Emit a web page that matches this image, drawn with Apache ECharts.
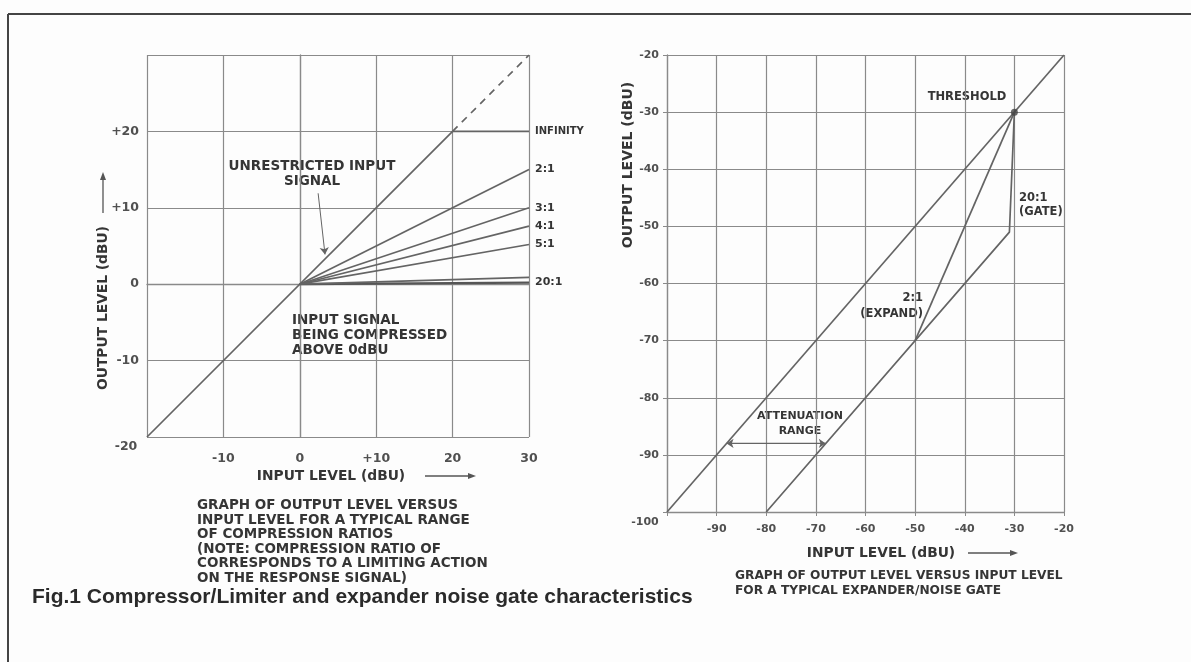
<!DOCTYPE html>
<html>
<head>
<meta charset="utf-8">
<script src="https://cdn.jsdelivr.net/npm/echarts@6/dist/echarts.min.js"></script>
<style>
  html, body { margin: 0; padding: 0; background: #fdfdfd; }
  #chart { width: 1191px; height: 662px; }
</style>
</head>
<body>
<div id="chart"></div>
<script>
// compressor / limiter (left)
const compTicks = [-20, -10, 0, 10, 20, 30];
const unityLine = [[-20, -20], [20, 20]];
const unityDashed = [[20, 20], [30, 30]];
const infinityLine = [[20, 20], [30, 20]];
const ratioLabels = ['2:1', '3:1', '4:1', '5:1', '20:1'];
const ratioOutAt30 = [15, 10, 7.6, 5.2, 0.9];
const flatLine = [[0, 0], [30, 0.2]];

// expander / noise gate (right)
const gateTicks = [-100, -90, -80, -70, -60, -50, -40, -30, -20];
const rightUnity = [[-100, -100], [-20, -20]];
const expandLine = [[-30, -30], [-50, -70]];
const gateLine = [[-30, -30], [-31, -51], [-80, -100]];
const threshold = [-30, -30];
const attenRange = [[-88, -88], [-68, -88]];

const LINE = '#646464';
const GRID = '#8a8a8a';
const TXT = '#353535';
const FONT = 'DejaVu Sans';

const chart = echarts.init(document.getElementById('chart'));

function lineSeries(xi, data, extra) {
  return Object.assign({
    type: 'line',
    xAxisIndex: xi,
    yAxisIndex: xi,
    data: data,
    showSymbol: false,
    animation: false,
    lineStyle: { color: LINE, width: 1.7 },
    z: 3
  }, extra || {});
}

const series = [
  lineSeries(0, unityLine, {
    markLine: {
      silent: true,
      symbol: ['none', 'arrow'],
      symbolSize: 7,
      label: { show: false },
      lineStyle: { color: LINE, width: 1, type: 'solid', curveness: 0.25 },
      data: [[{ coord: [2.4, 11.9] }, { coord: [3.3, 3.9] }]]
    }
  }),
  lineSeries(0, unityDashed, { lineStyle: { color: LINE, width: 1.7, type: [7, 6] } }),
  lineSeries(0, infinityLine, {
    name: 'INFINITY',
    endLabel: { show: true, formatter: 'INFINITY', color: TXT, fontFamily: FONT, fontWeight: 'bold', fontSize: 10, distance: 6 }
  }),
  lineSeries(0, flatLine, { lineStyle: { color: '#555', width: 2.2 } })
];
ratioLabels.forEach(function (lab, i) {
  series.push(lineSeries(0, [[0, 0], [30, ratioOutAt30[i]]], {
    name: lab,
    endLabel: {
      show: true, formatter: lab, color: TXT, fontFamily: FONT, fontWeight: 'bold', fontSize: 11, distance: 6,
      offset: lab === '20:1' ? [0, 5] : [0, 0]
    }
  }));
});
series.push(lineSeries(1, rightUnity));
series.push(lineSeries(1, expandLine));
series.push(lineSeries(1, gateLine));
series.push({
  type: 'scatter', xAxisIndex: 1, yAxisIndex: 1, data: [threshold],
  symbolSize: 7, itemStyle: { color: '#444' }, animation: false, z: 4
});
series.push(lineSeries(1, attenRange, {
  lineStyle: { color: LINE, width: 1.2 },
  markLine: {
    silent: true,
    symbol: ['arrow', 'arrow'],
    symbolSize: 7,
    label: { show: false },
    lineStyle: { color: LINE, width: 1.2, type: 'solid' },
    data: [[{ coord: attenRange[0] }, { coord: attenRange[1] }]]
  }
}));

const tickFont = { color: '#505050', fontFamily: FONT, fontSize: 11, fontWeight: 'bold' };

const axisCommon = {
  type: 'value',
  axisLine: { show: true, lineStyle: { color: GRID, width: 1.3 } },
  axisTick: { show: true, length: 4, lineStyle: { color: GRID } },
  splitLine: { show: true, lineStyle: { color: GRID, width: 1.2 } }
};

function ax(extra) {
  const o = JSON.parse(JSON.stringify(axisCommon));
  return Object.assign(o, extra);
}

function txt(x, y, text, opt) {
  opt = opt || {};
  return {
    type: 'text',
    x: x, y: y,
    rotation: opt.rotation || 0,
    silent: true,
    style: {
      text: text,
      fill: opt.fill || TXT,
      font: opt.font || ('bold 11px "' + FONT + '"'),
      textAlign: opt.align || 'left',
      textVerticalAlign: opt.valign || 'middle',
      lineHeight: opt.lineHeight || 14
    }
  };
}

const capFont = 'bold 13.8px "' + FONT + '"';
const noteFont = 'bold 13.5px "' + FONT + '"';
const smallFont = 'bold 11.5px "' + FONT + '"';

chart.setOption({
  backgroundColor: '#fdfdfd',
  animation: false,
  grid: [
    { left: 147, top: 55, width: 382, height: 382, show: false },
    { left: 667, top: 55, width: 397, height: 457, show: false }
  ],
  xAxis: [
    ax({
      gridIndex: 0, min: compTicks[0], max: compTicks[compTicks.length - 1], interval: 10,
      axisLabel: Object.assign({}, tickFont, {
        fontSize: 12.5, margin: 15,
        formatter: function (v) { return v === -20 ? '' : (v === 10 ? '+10' : String(v)); }
      })
    }),
    ax({
      gridIndex: 1, min: gateTicks[0], max: gateTicks[gateTicks.length - 1], interval: 10,
      axisLabel: Object.assign({}, tickFont, {
        margin: 12,
        formatter: function (v) { return v === -100 ? '' : String(v); }
      })
    })
  ],
  yAxis: [
    ax({
      gridIndex: 0, min: compTicks[0], max: compTicks[compTicks.length - 1], interval: 10,
      axisLabel: Object.assign({}, tickFont, {
        fontSize: 12.5, margin: 8,
        formatter: function (v) { return (v === -20 || v === 30) ? '' : (v > 0 ? '+' + v : String(v)); }
      })
    }),
    ax({
      gridIndex: 1, min: gateTicks[0], max: gateTicks[gateTicks.length - 1], interval: 10,
      axisLabel: Object.assign({}, tickFont, {
        margin: 8,
        formatter: function (v) { return v === -100 ? '' : String(v); }
      })
    })
  ],
  series: series,
  graphic: [
    // frame
    { type: 'line', shape: { x1: 8, y1: 14, x2: 1191, y2: 14 }, style: { stroke: '#444', lineWidth: 2 } },
    { type: 'line', shape: { x1: 8, y1: 14, x2: 8, y2: 662 }, style: { stroke: '#444', lineWidth: 2 } },
    // corner labels
    txt(126, 447, '-20', { align: 'center', font: 'bold 12.5px "' + FONT + '"', fill: '#505050' }),
    txt(645, 522, '-100', { align: 'center', font: 'bold 11px "' + FONT + '"', fill: '#505050' }),
    // left axis names
    txt(331, 476, 'INPUT LEVEL (dBU)', { align: 'center', font: capFont }),
    { type: 'line', shape: { x1: 425, y1: 476, x2: 470, y2: 476 }, style: { stroke: '#555', lineWidth: 1.3 } },
    { type: 'polygon', shape: { points: [[476, 476], [468, 473], [468, 479]] }, style: { fill: '#555' } },
    txt(103, 308, 'OUTPUT LEVEL (dBU)', { align: 'center', font: capFont, rotation: Math.PI / 2 }),
    { type: 'line', shape: { x1: 103, y1: 213, x2: 103, y2: 178 }, style: { stroke: '#555', lineWidth: 1.3 } },
    { type: 'polygon', shape: { points: [[103, 172], [100, 180], [106, 180]] }, style: { fill: '#555' } },
    // left annotations
    txt(312, 174, 'UNRESTRICTED INPUT\nSIGNAL', { align: 'center', font: noteFont, lineHeight: 15 }),
    txt(292, 335, 'INPUT SIGNAL\nBEING COMPRESSED\nABOVE 0dBU', { font: noteFont, lineHeight: 15 }),
    txt(197, 542, 'GRAPH OF OUTPUT LEVEL VERSUS\nINPUT LEVEL FOR A TYPICAL RANGE\nOF COMPRESSION RATIOS\n(NOTE: COMPRESSION RATIO OF\nCORRESPONDS TO A LIMITING ACTION\nON THE RESPONSE SIGNAL)', { font: 'bold 13.5px "' + FONT + '"', lineHeight: 14.5 }),
    // right axis names
    txt(881, 553, 'INPUT LEVEL (dBU)', { align: 'center', font: capFont }),
    { type: 'line', shape: { x1: 968, y1: 553, x2: 1012, y2: 553 }, style: { stroke: '#555', lineWidth: 1.3 } },
    { type: 'polygon', shape: { points: [[1018, 553], [1010, 550], [1010, 556]] }, style: { fill: '#555' } },
    txt(628, 165, 'OUTPUT LEVEL (dBU)', { align: 'center', font: 'bold 14px "' + FONT + '"', rotation: Math.PI / 2 }),
    // right annotations
    txt(967, 97, 'THRESHOLD', { align: 'center', font: smallFont }),
    txt(1019, 205, '20:1\n(GATE)', { font: smallFont, lineHeight: 14 }),
    txt(923, 306, '2:1\n(EXPAND)', { align: 'right', font: smallFont, lineHeight: 16 }),
    txt(800, 424, 'ATTENUATION\nRANGE', { align: 'center', font: 'bold 11px "' + FONT + '"', lineHeight: 15 }),
    txt(735, 583, 'GRAPH OF OUTPUT LEVEL VERSUS INPUT LEVEL\nFOR A TYPICAL EXPANDER/NOISE GATE', { font: 'bold 12.2px "' + FONT + '"', lineHeight: 15 }),
    // figure caption
    txt(32, 597, 'Fig.1 Compressor/Limiter and expander noise gate characteristics', { font: 'bold 21px "Liberation Sans"', fill: '#2a2a2a' })
  ]
});
</script>
</body>
</html>
